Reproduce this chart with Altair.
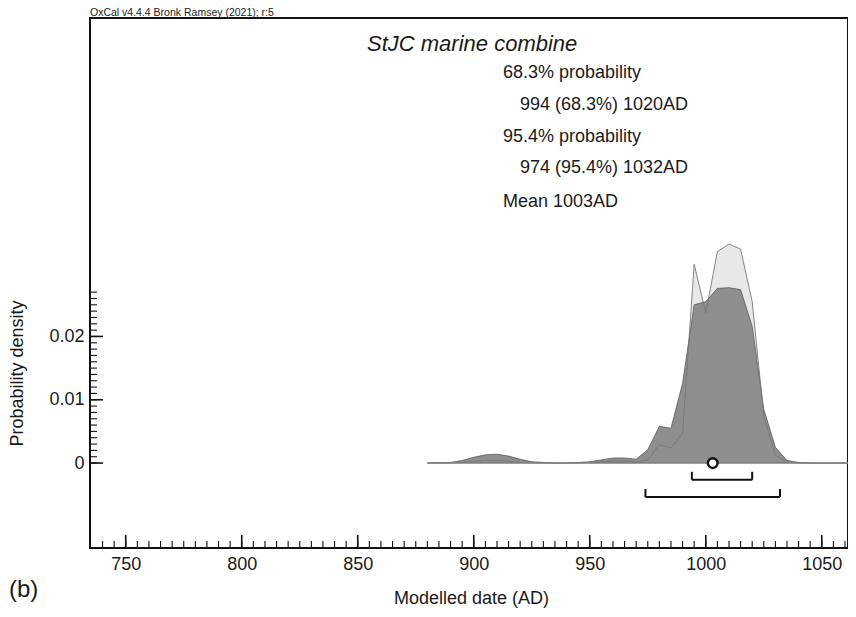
import altair as alt
import pandas as pd

# ---------------- data ----------------
years = [880, 885, 890, 895, 900, 905, 910, 915, 920, 925, 930, 935, 940, 945,
         950, 955, 960, 965, 970, 975, 980, 985, 990, 995, 1000, 1005, 1010,
         1015, 1020, 1025, 1030, 1035, 1040, 1045, 1050, 1055, 1060, 1065]
# modelled (posterior) distribution - dark
posterior = [0, 0.00005, 0.0001, 0.0004, 0.0009, 0.0013, 0.0014, 0.0011, 0.0006,
             0.0002, 0.0001, 0.0, 0.0, 0.0001, 0.0002, 0.0005, 0.0008, 0.0008,
             0.0006, 0.0021, 0.0058, 0.0055, 0.0126, 0.0250, 0.0255, 0.0276,
             0.0277, 0.0274, 0.0216, 0.0085, 0.0025, 0.0004, 0.0001, 0, 0, 0, 0, 0]
# unmodelled (likelihood) distribution - light
likelihood = [0, 0, 0, 0.0001, 0.0003, 0.0004, 0.0004, 0.0003, 0.0001, 0.00005,
              0, 0, 0, 0, 0.0001, 0.0002, 0.0003, 0.0003, 0.0002, 0.0005, 0.0029,
              0.0024, 0.0047, 0.0314, 0.0237, 0.0334, 0.0346, 0.0338, 0.0255,
              0.0075, 0.0012, 0.0002, 0, 0, 0, 0, 0, 0]

range_starts = [994, 974]
range_ends = [1020, 1032]
mean_year = [1003]

x_major = [750, 800, 850, 900, 950, 1000, 1050]
x_minor = list(range(740, 1061, 5))
y_major = [0.0, 0.01, 0.02]
y_minor = [i / 1000 for i in range(0, 28)]

plot_title = "StJC marine combine"
annot_lines = ["68.3% probability", "994 (68.3%) 1020AD", "95.4% probability",
               "974 (95.4%) 1032AD", "Mean 1003AD"]
header = "OxCal v4.4.4 Bronk Ramsey (2021); r:5"

# ---------------- layout ----------------
W, H = 758, 530
FONT = "Liberation Sans"
TXT = "#1a1a1a"
x_scale = alt.Scale(domain=[734.6, 1061.3], nice=False, zero=False)
y_scale = alt.Scale(domain=[-0.01342, 0.07031], nice=False, zero=False)

x_axis = alt.Axis(values=x_major, format="d", ticks=False, domain=False, grid=False,
                  labelFontSize=18, labelPadding=7, labelColor=TXT,
                  title="Modelled date (AD)", titleFontSize=18, titleFontWeight="normal",
                  titleColor=TXT, titleX=381, titleY=50, titleBaseline="middle")
y_axis = alt.Axis(values=y_major, format=".2~f", ticks=False, domain=False, grid=False,
                  labelFontSize=18, labelPadding=6, labelColor=TXT,
                  title="Probability density", titleFontSize=18, titleFontWeight="normal",
                  titleColor=TXT, titleX=-73, titleY=355, titleAngle=270,
                  titleAlign="center", titleBaseline="middle")


def X(field):
    return alt.X(f"{field}:Q", scale=x_scale, axis=x_axis, title="Modelled date (AD)")


def Y(field):
    return alt.Y(f"{field}:Q", scale=y_scale, axis=y_axis, title="Probability density")


df = pd.DataFrame({"year": years, "post": posterior, "like": likelihood})

light_fill = alt.Chart(df).mark_area(color="#e8e8e8", clip=True).encode(x=X("year"), y=Y("like"))
dark_fill = alt.Chart(df).mark_area(color="#8e8e8e", stroke="#5a5a5a", strokeWidth=0.8,
                                    clip=True).encode(x=X("year"), y=Y("post"))
light_line = alt.Chart(df).mark_line(color="#777777", strokeWidth=0.9, clip=True).encode(
    x=X("year"), y=Y("like"))

base_df = pd.DataFrame({"x0": [years[0]], "x1": [years[-1]], "y0": [0.0]})
baseline = alt.Chart(base_df).mark_rule(color="#8a8a8a", strokeWidth=1, clip=True).encode(
    x=X("x0"), x2="x1", y=Y("y0"))

# probability range brackets
levels = [-0.00264, -0.00537]
up = 0.00126
br = pd.DataFrame({"s": range_starts, "e": range_ends, "lv": levels})
br_h = alt.Chart(br).mark_rule(color="#111", strokeWidth=2).encode(x=X("s"), x2="e", y=Y("lv"))
br_ends = pd.DataFrame({"x": range_starts + range_ends, "lv": levels + levels,
                        "top": [l + up for l in levels] * 2})
br_v = alt.Chart(br_ends).mark_rule(color="#111", strokeWidth=2).encode(
    x=X("x"), y=Y("lv"), y2="top")

mean_df = pd.DataFrame({"m": mean_year, "z": [0.0]})
mean_pt = alt.Chart(mean_df).mark_point(shape="circle", filled=True, fill="white",
                                         stroke="#111", strokeWidth=2.4, size=95,
                                         opacity=1).encode(x=X("m"), y=Y("z"))

# inward ticks
xmaj = alt.Chart(pd.DataFrame({"v": x_major})).mark_rule(color="#111", strokeWidth=1.6).encode(
    x=X("v"), y=alt.value(H), y2=alt.value(H - 13))
xmin = alt.Chart(pd.DataFrame({"v": x_minor})).mark_rule(color="#111", strokeWidth=1.1).encode(
    x=X("v"), y=alt.value(H), y2=alt.value(H - 7))
ymaj = alt.Chart(pd.DataFrame({"v": y_major})).mark_rule(color="#111", strokeWidth=1.6).encode(
    y=Y("v"), x=alt.value(0), x2=alt.value(13))
ymin = alt.Chart(pd.DataFrame({"v": y_minor})).mark_rule(color="#111", strokeWidth=1.1).encode(
    y=Y("v"), x=alt.value(0), x2=alt.value(7))

# annotations
one = pd.DataFrame({"a": [0]})
texts = [alt.Chart(one).mark_text(text=plot_title, fontSize=22, fontStyle="italic",
                                  align="left", baseline="middle", color=TXT).encode(
    x=alt.value(277), y=alt.value(26))]
line_x = [413, 430, 413, 430, 413]
line_y = [55, 87, 119, 150, 184]
for t, lx, ly in zip(annot_lines, line_x, line_y):
    texts.append(alt.Chart(one).mark_text(text=t, fontSize=18, align="left",
                                          baseline="middle", color=TXT).encode(
        x=alt.value(lx), y=alt.value(ly)))
texts.append(alt.Chart(one).mark_text(text="(b)", fontSize=24, align="left",
                                      baseline="middle", color=TXT).encode(
    x=alt.value(-81), y=alt.value(572)))

chart = alt.layer(light_fill, dark_fill, light_line, baseline, br_h, br_v, mean_pt,
                  xmin, xmaj, ymin, ymaj, *texts).properties(
    width=W, height=H,
    title=alt.TitleParams(header, anchor="start", frame="group", fontSize=10.5,
                          fontWeight="normal", color="#222", offset=2, dy=2),
    autosize=alt.AutoSizeParams(type="none"),
    padding={"left": 82, "top": 10, "right": 0, "bottom": 60},
).configure(font=FONT).configure_view(stroke="#111", strokeWidth=2)

chart.save("out.html", embed_options={"renderer": "svg", "actions": False})
